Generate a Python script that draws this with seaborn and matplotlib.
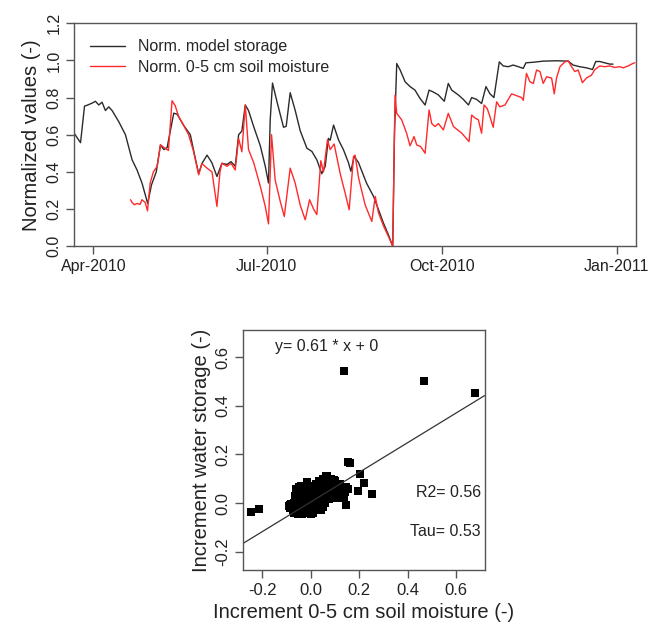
import numpy as np
import pandas as pd
import matplotlib
matplotlib.use("Agg")
import matplotlib.pyplot as plt
import matplotlib.dates as mdates
import seaborn as sns

# ---------------- data ----------------
# Top panel: day offsets from 2010-04-01 and normalized values
storage_days = [-10.3, -6.8, -4.7, -3.0, -0.7, 1.0, 2.8, 4.5, 6.3, 8.0, 9.8, 13.3, 16.8,
                20.3, 22.9, 25.5, 28.5, 30.5, 33.0, 35.2, 37.0, 38.7, 42.2, 44.0, 47.4,
                50.9, 54.0, 55.3, 57.0, 59.7, 62.2, 64.9, 67.5, 70.2, 72.3, 74.5, 76.3,
                78.0, 79.8, 81.5, 84.2, 87.7, 90.3, 92.0, 92.9, 94.1, 96.4, 99.9, 101.3,
                103.4, 106.0, 108.7, 112.2, 114.8, 117.4, 120.0, 121.8, 123.5, 124.4,
                126.2, 128.8, 131.4, 134.0, 135.3, 137.0, 139.3, 143.5, 147.2, 149.8,
                152.4, 155.0, 157.3, 158.2, 159.4, 161.2, 163.8, 166.4, 169.0, 171.6,
                174.3, 176.4, 178.6, 181.3, 184.4, 186.5, 188.3, 191.8, 194.4, 197.1,
                198.8, 201.4, 204.0, 206.3, 208.4, 210.5, 213.3, 215.4, 218.0, 220.6,
                223.3, 225.9, 227.3, 231.2, 236.4, 243.4, 249.5, 252.1, 255.6, 259.1,
                262.3, 264.0, 266.1, 268.7, 271.4, 273.1]
storage_vals = [0.61, 0.557, 0.754, 0.76, 0.77, 0.78, 0.76, 0.775, 0.73, 0.75, 0.73, 0.67, 0.60,
                0.465, 0.41, 0.34, 0.23, 0.33, 0.40, 0.545, 0.52, 0.53, 0.716, 0.71, 0.65,
                0.60, 0.45, 0.39, 0.445, 0.49, 0.45, 0.375, 0.446, 0.44, 0.455, 0.43, 0.60,
                0.62, 0.76, 0.73, 0.644, 0.54, 0.43, 0.34, 0.68, 0.878, 0.78, 0.64, 0.645,
                0.826, 0.732, 0.62, 0.527, 0.51, 0.465, 0.39, 0.43, 0.58, 0.57,
                0.652, 0.572, 0.519, 0.45, 0.403, 0.483, 0.45, 0.34, 0.268, 0.197,
                0.125, 0.062, 0.0, 0.6, 0.983, 0.948, 0.885, 0.859, 0.84, 0.796,
                0.76, 0.84, 0.83, 0.814, 0.78, 0.876, 0.84, 0.814, 0.79, 0.76,
                0.80, 0.79, 0.768, 0.859, 0.82, 0.80, 0.992, 0.97, 0.966, 0.975,
                0.966, 0.957, 0.987, 0.99, 0.996, 0.998, 0.996, 0.975, 0.966, 0.96,
                0.951, 0.994, 0.994, 0.987, 0.98, 0.98]

soil_days = [19.5, 20.3, 21.5, 22.9, 24.5, 25.5, 27.2, 28.4, 29.8, 31.5, 33.5, 35.2, 37.3,
             39.4, 41.3, 43.0, 44.7, 47.4, 50.0, 52.6, 55.3, 57.0, 59.7, 62.3, 64.9, 66.5,
             67.5, 70.2, 72.3, 74.5, 76.3, 78.0, 79.8, 81.5, 84.2, 87.7, 90.3, 92.0, 92.9,
             93.6, 95.5, 98.2, 100.3, 103.4, 106.0, 108.7, 111.3, 113.6, 115.7, 117.4,
             119.5, 120.9, 123.0, 124.4, 126.5, 129.7, 132.3, 134.4, 136.7, 137.5, 139.3,
             142.8, 146.3, 148.1, 149.8, 152.4, 155.0, 157.3, 158.5, 159.4, 162.0, 164.6,
             166.4, 168.5, 169.9, 172.0, 174.3, 176.4, 177.8, 179.5, 181.3, 183.9, 186.5,
             189.2, 193.6, 197.4, 198.8, 200.5, 202.3, 204.0, 205.3, 207.0, 208.4, 210.1,
             211.9, 213.6, 216.3, 218.0, 219.8, 222.4, 225.0, 225.9, 227.6, 229.4, 231.2,
             232.9, 234.7, 236.4, 238.2, 240.8, 242.2, 243.4, 245.2, 247.8, 249.5, 251.3,
             253.0, 254.8, 257.0, 259.1, 261.7, 263.5, 266.1, 268.7, 271.4, 274.0, 276.6,
             278.4, 281.0, 283.6, 284.5]
soil_vals = [0.25, 0.235, 0.223, 0.23, 0.225, 0.25, 0.235, 0.19, 0.34, 0.40, 0.43, 0.545, 0.53,
             0.515, 0.783, 0.755, 0.70, 0.65, 0.60, 0.51, 0.384, 0.445, 0.42, 0.40, 0.214, 0.40,
             0.446, 0.43, 0.446, 0.41, 0.58, 0.508, 0.76, 0.52, 0.45, 0.322, 0.214, 0.12, 0.40,
             0.60, 0.356, 0.24, 0.16, 0.42, 0.34, 0.22, 0.142, 0.25, 0.20, 0.17,
             0.46, 0.40, 0.573, 0.52, 0.55, 0.39, 0.285, 0.196, 0.483, 0.49, 0.37,
             0.222, 0.133, 0.268, 0.18, 0.11, 0.053, 0.0, 0.813, 0.715, 0.68, 0.608,
             0.54, 0.59, 0.545, 0.536, 0.50, 0.733, 0.66, 0.644, 0.66, 0.626, 0.715,
             0.644, 0.608, 0.563, 0.706, 0.69, 0.68, 0.608, 0.76, 0.74, 0.697, 0.64,
             0.777, 0.75, 0.76, 0.79, 0.82, 0.81, 0.80, 0.785, 0.93, 0.885, 0.876,
             0.948, 0.94, 0.876, 0.912, 0.905, 0.82, 0.905, 0.966, 0.992, 0.998, 0.966,
             0.94, 0.948, 0.88, 0.905, 0.92, 0.95, 0.97, 0.966, 0.97, 0.962, 0.966,
             0.96, 0.97, 0.984, 0.987]

# Bottom panel: increments
inc_soil = [0.137, 0.467, 0.679, -0.245, -0.215, 0.153, 0.163, 0.204, 0.218, 0.195, 0.254,
            0.145, 0.152, 0.131, 0.062, 0.097, -0.017, -0.047, -0.06, -0.087, -0.053,
            -0.09, -0.085, -0.08, -0.075, -0.07, -0.07, -0.065, -0.06, -0.06, -0.055,
            -0.05, -0.05, -0.045, -0.04, -0.04, -0.035, -0.03, -0.03, -0.025, -0.02,
            -0.02, -0.015, -0.01, -0.01, -0.005, 0.0, 0.0, 0.005, 0.005, 0.01, 0.01,
            0.015, 0.02, 0.02, 0.025, 0.03, 0.03, 0.035, 0.04, 0.04, 0.045, 0.05,
            0.05, 0.055, 0.06, 0.06, 0.065, 0.065, 0.07, 0.075, 0.075, 0.08, 0.085,
            0.09, 0.095, 0.10, 0.10, 0.105, 0.11, 0.115, 0.12, 0.125, 0.13, 0.135,
            0.14, 0.145, -0.06, -0.04, -0.065, 0.0, -0.045, 0.02, 0.035, 0.05, 0.015,
            -0.025, -0.075, -0.035, 0.085, 0.11]
inc_storage = [0.544, 0.504, 0.453, -0.036, -0.026, 0.17, 0.163, 0.12, 0.084, 0.051, 0.037,
               -0.009, 0.06, 0.025, 0.111, 0.097, 0.087, 0.067, 0.04, -0.009, -0.043,
               -0.01, -0.02, -0.005, -0.03, 0.0, -0.04, 0.02, -0.02, 0.045, -0.045,
               0.01, 0.065, -0.03, 0.03, -0.01, -0.045, 0.05, 0.0, -0.02, 0.02,
               -0.04, 0.085, 0.04, -0.01, -0.03, 0.055, 0.01, -0.02, 0.03, -0.04, 0.07,
               0.0, 0.045, -0.025, 0.02, 0.06, -0.01, 0.035, -0.03, 0.075, 0.01, 0.05,
               -0.015, 0.03, 0.09, 0.0, 0.11, 0.06, 0.035, 0.08, 0.015, 0.055, 0.10,
               0.03, 0.07, 0.05, 0.09, 0.02, 0.065, 0.04, 0.08, 0.03, 0.055, 0.02,
               0.045, 0.065, 0.06, 0.07, 0.03, -0.045, 0.045, 0.08, 0.09, 0.10, 0.05,
               0.06, -0.015, 0.025, 0.04, 0.075]

fit_slope = 0.61
fit_intercept = 0.005
tick_dates = ["2010-04-01", "2010-07-01", "2010-10-01", "2011-01-01"]
tick_labels = ["Apr-2010", "Jul-2010", "Oct-2010", "Jan-2011"]

# ---------------- style ----------------
sns.set_theme(style="white")
plt.rcParams["font.family"] = ["Liberation Sans", "DejaVu Sans"]
plt.rcParams["axes.edgecolor"] = "#555555"
plt.rcParams["axes.linewidth"] = 1.0

base = pd.Timestamp("2010-04-01")
df_top = pd.concat([
    pd.DataFrame({"date": base + pd.to_timedelta(storage_days, unit="D"),
                  "value": storage_vals, "series": "Norm. model storage"}),
    pd.DataFrame({"date": base + pd.to_timedelta(soil_days, unit="D"),
                  "value": soil_vals, "series": "Norm. 0-5 cm soil moisture"}),
], ignore_index=True)

fig = plt.figure(figsize=(6.48, 6.28), dpi=100)
ax1 = fig.add_axes([0.114, 0.608, 0.867, 0.355])
ax2 = fig.add_axes([0.375, 0.092, 0.373, 0.383])

sns.lineplot(data=df_top, x="date", y="value", hue="series", estimator=None, sort=False,
             palette={"Norm. model storage": "#2b2b2b", "Norm. 0-5 cm soil moisture": "#ff2a2a"},
             linewidth=1.0, ax=ax1)
ax1.set_xlim(base - pd.Timedelta(days=10.3), base + pd.Timedelta(days=285))
ax1.set_ylim(0, 1.2)
ax1.set_yticks([0, 0.2, 0.4, 0.6, 0.8, 1.0, 1.2])
ax1.set_yticklabels(["0.0", "0.2", "0.4", "0.6", "0.8", "1.0", "1.2"])
ax1.set_xticks(pd.to_datetime(tick_dates))
ax1.set_xticklabels(tick_labels)
ax1.set_xlabel("")
ax1.set_ylabel("Normalized values (-)", fontsize=14.5, color="#222222", labelpad=4)
ax1.tick_params(axis="both", which="major", direction="out", length=6, width=1,
                color="#555555", labelsize=11.5, labelcolor="#222222", left=True, bottom=True, pad=3)
for lab in ax1.get_yticklabels():
    lab.set_rotation(90)
    lab.set_va("center")
leg = ax1.legend(loc="upper left", bbox_to_anchor=(0.0, 1.0), frameon=False, fontsize=11.5,
                 handlelength=2.2, handletextpad=0.8, labelspacing=0.35, borderaxespad=0.6)

df_sc = pd.DataFrame({"x": inc_soil, "y": inc_storage})
sns.scatterplot(data=df_sc, x="x", y="y", marker="s", s=28, color="black",
                edgecolor="black", linewidth=0, ax=ax2)
xl = (-0.28, 0.717)
ax2.set_xlim(*xl)
ax2.set_ylim(-0.276, 0.713)
xs = np.array(xl)
ax2.plot(xs, fit_slope * xs + fit_intercept, color="#333333", linewidth=0.9)
ax2.set_xticks([-0.2, 0.0, 0.2, 0.4, 0.6])
ax2.set_xticklabels(["-0.2", "0.0", "0.2", "0.4", "0.6"])
ax2.set_yticks([-0.2, 0.0, 0.2, 0.4, 0.6])
ax2.set_yticklabels(["-0.2", "0.0", "0.2", "0.4", "0.6"])
ax2.tick_params(axis="both", which="major", direction="out", length=6, width=1,
                color="#555555", labelsize=12, labelcolor="#222222", left=True, bottom=True, pad=3)
for lab in ax2.get_yticklabels():
    lab.set_rotation(90)
    lab.set_va("center")
ax2.set_xlabel("Increment 0-5 cm soil moisture (-)", fontsize=14.5, color="#222222", labelpad=4)
ax2.set_ylabel("Increment water storage (-)", fontsize=14.5, color="#222222", labelpad=3)
ax2.text(0.345, 0.93, "y= 0.61 * x + 0", transform=ax2.transAxes, ha="center", va="center",
         fontsize=11.5, color="#222222")
ax2.text(0.985, 0.325, "R2= 0.56", transform=ax2.transAxes, ha="right", va="center",
         fontsize=11.5, color="#222222")
ax2.text(0.985, 0.16, "Tau= 0.53", transform=ax2.transAxes, ha="right", va="center",
         fontsize=11.5, color="#222222")

fig.savefig("out.png", dpi=100, facecolor="white")
